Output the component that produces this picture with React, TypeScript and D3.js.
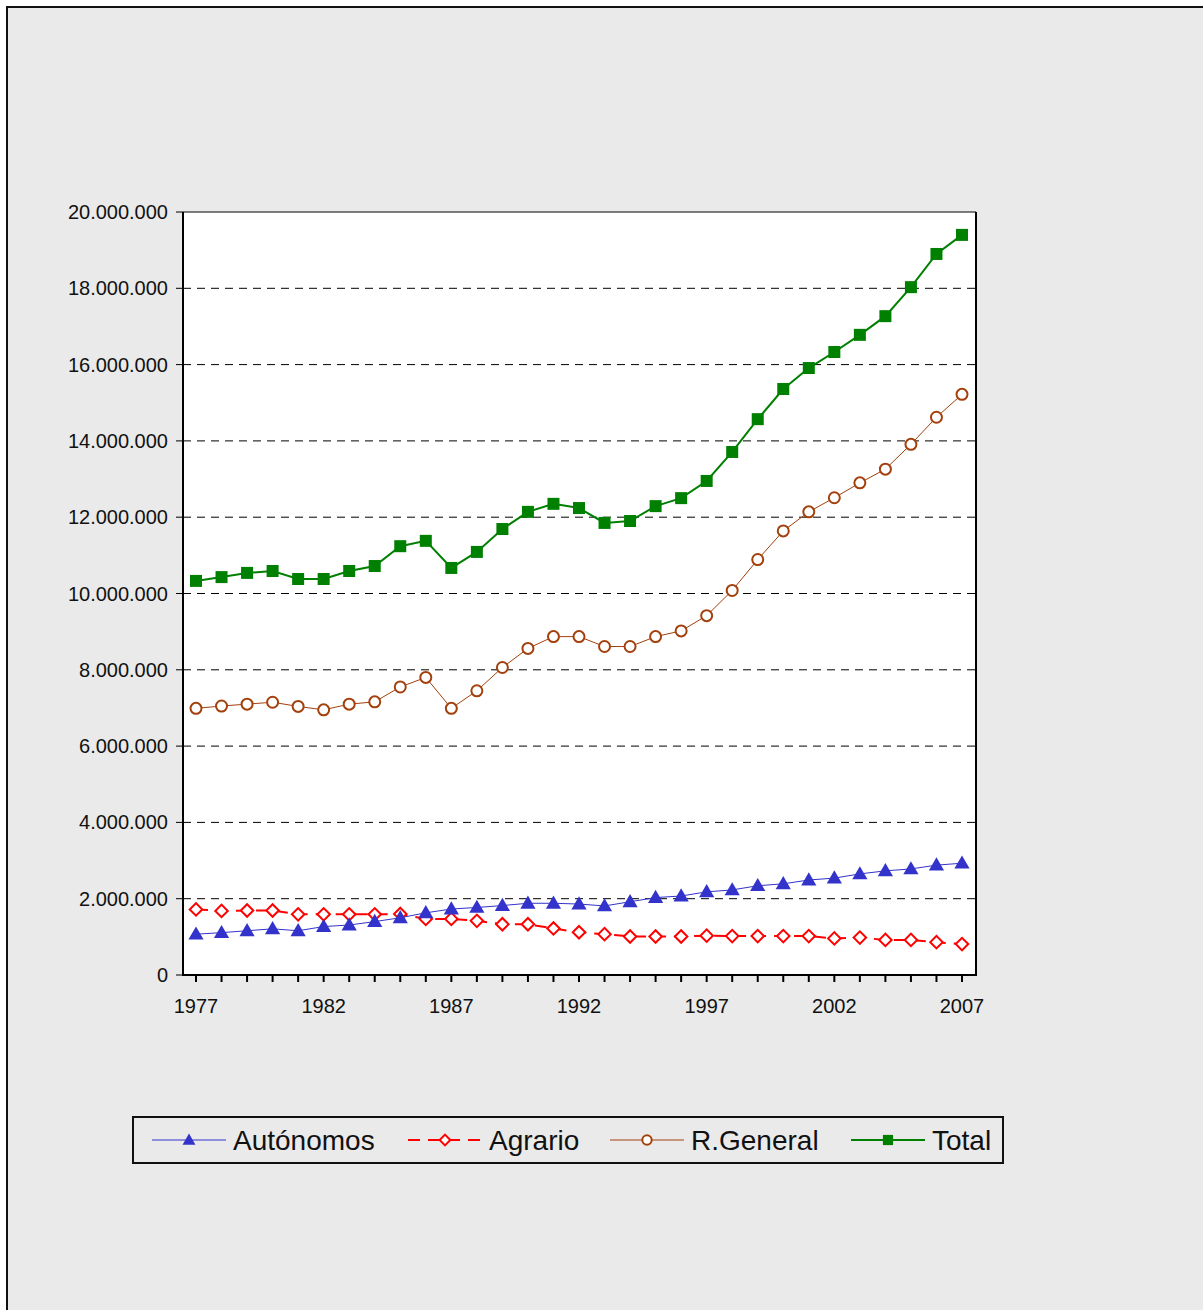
import React from "react";
import * as d3 from "d3";

const width = 1203, height = 1310;

const years = d3.range(1977, 2008);
const yearLabels = [1977, 1982, 1987, 1992, 1997, 2002, 2007];
const yTicks = [0, 2e6, 4e6, 6e6, 8e6, 10e6, 12e6, 14e6, 16e6, 18e6, 20e6];

// millions
const autonomos = [1.07, 1.11, 1.16, 1.21, 1.16, 1.27, 1.31, 1.40, 1.50, 1.63, 1.73, 1.77, 1.82, 1.88, 1.88, 1.86,
  1.81, 1.92, 2.03, 2.07, 2.18, 2.23, 2.34, 2.39, 2.49, 2.54, 2.65, 2.73, 2.78, 2.88, 2.93];
const agrario = [1.72, 1.68, 1.69, 1.69, 1.59, 1.59, 1.59, 1.59, 1.60, 1.47, 1.47, 1.42, 1.33, 1.33, 1.22, 1.12,
  1.07, 1.01, 1.01, 1.01, 1.03, 1.02, 1.02, 1.02, 1.02, 0.96, 0.98, 0.92, 0.92, 0.86, 0.81];
const rGeneral = [6.99, 7.05, 7.10, 7.15, 7.04, 6.95, 7.10, 7.16, 7.55, 7.80, 6.99, 7.45, 8.06, 8.56, 8.87, 8.87,
  8.61, 8.61, 8.87, 9.02, 9.42, 10.08, 10.89, 11.64, 12.14, 12.51, 12.90, 13.26, 13.91, 14.62, 15.22];
const total = [10.33, 10.43, 10.54, 10.59, 10.38, 10.38, 10.59, 10.72, 11.24, 11.38, 10.67, 11.09, 11.69, 12.14,
  12.35, 12.24, 11.85, 11.90, 12.29, 12.50, 12.95, 13.71, 14.57, 15.36, 15.91, 16.33, 16.78, 17.27, 18.03, 18.90, 19.40];

const left = 183, right = 976, top = 212, bottom = 975;

const x = d3.scaleLinear().domain([1977, 2007]).range([196, 962]);
const y = d3.scaleLinear().domain([0, 20e6]).range([bottom, top]);

const fmt = d3.formatLocale({ decimal: ",", thousands: ".", grouping: [3], currency: ["", ""] }).format(",");

type Marker = "triangle" | "diamond" | "circle" | "square";

const series = [
  { name: "Total", values: total, color: "#008000", width: 2, dash: undefined, marker: "square" as Marker },
  { name: "R.General", values: rGeneral, color: "#A3400C", width: 1, dash: undefined, marker: "circle" as Marker },
  { name: "Agrario", values: agrario, color: "#FF0000", width: 2, dash: "12 8", marker: "diamond" as Marker },
  { name: "Autónomos", values: autonomos, color: "#3333CC", width: 1, dash: undefined, marker: "triangle" as Marker },
];

const legendOrder = ["Autónomos", "Agrario", "R.General", "Total"];
const legendX = [152, 408, 610, 851];

const symbolFor = (m: Marker, size: number) => {
  const t = m === "triangle" ? d3.symbolTriangle : m === "circle" ? d3.symbolCircle : d3.symbolSquare;
  return d3.symbol().type(t).size(size)() as string;
};

const MarkerShape = ({ m, cx, cy, color, scale = 1 }: { m: Marker; cx: number; cy: number; color: string; scale?: number }) => {
  if (m === "square") return <rect x={cx - 6 * scale} y={cy - 6 * scale} width={12 * scale} height={12 * scale} fill={color} />;
  if (m === "circle") return <circle cx={cx} cy={cy} r={5.5 * scale} fill="white" stroke={color} strokeWidth={2} />;
  if (m === "diamond")
    return <path d={symbolFor("diamond", 78 * scale * scale)} transform={`translate(${cx},${cy}) rotate(45)`} fill="white" stroke={color} strokeWidth={2} />;
  return <path d={symbolFor("triangle", 100 * scale * scale)} transform={`translate(${cx},${cy + 1})`} fill={color} />;
};

export default function App() {
  const line = d3.line<number>().x((_, i) => x(years[i])).y(d => y(d * 1e6));
  return (
    <svg width={width} height={height} style={{ position: "absolute", left: 0, top: 0 }} fontFamily="'Liberation Sans', Arial, sans-serif">
      <rect x={0} y={0} width={width} height={height} fill="#fff" />
      <rect x={7} y={7} width={width + 20} height={height + 20} fill="#EAEAEA" stroke="#111" strokeWidth={2} />

      <rect x={left} y={top} width={right - left} height={bottom - top} fill="#fff" />

      {yTicks.slice(1, -1).map(t => (
        <line key={t} x1={left} x2={right} y1={y(t)} y2={y(t)} stroke="#000" strokeDasharray="8 6" strokeWidth={1} />
      ))}

      {yTicks.map(t => (
        <g key={"yt" + t}>
          <line x1={176} x2={left} y1={y(t)} y2={y(t)} stroke="#000" strokeWidth={1} />
          <text x={168} y={y(t) + 7} textAnchor="end" fontSize={20} fill="#111">{fmt(t)}</text>
        </g>
      ))}

      {years.map(yr => (
        <line key={"xt" + yr} x1={x(yr)} x2={x(yr)} y1={bottom} y2={bottom + 7} stroke="#000" strokeWidth={2} />
      ))}
      {yearLabels.map(yr => (
        <text key={"xl" + yr} x={x(yr)} y={1013} textAnchor="middle" fontSize={20} fill="#111">{yr}</text>
      ))}

      <line x1={left} x2={right} y1={top} y2={top} stroke="#000" strokeWidth={1} />
      <line x1={left} x2={left} y1={top} y2={bottom + 1} stroke="#000" strokeWidth={2} />
      <line x1={right} x2={right} y1={top} y2={bottom + 1} stroke="#000" strokeWidth={2} />
      <line x1={left - 1} x2={right + 1} y1={bottom} y2={bottom} stroke="#000" strokeWidth={2} />

      {series.map(s => (
        <g key={s.name}>
          <path d={line(s.values) as string} fill="none" stroke={s.color} strokeWidth={s.width} strokeDasharray={s.dash} />
          {s.values.map((v, i) => (
            <MarkerShape key={i} m={s.marker} cx={x(years[i])} cy={y(v * 1e6)} color={s.color} />
          ))}
        </g>
      ))}

      <rect x={133} y={1117} width={870} height={46} fill="#EAEAEA" stroke="#111" strokeWidth={2} />
      {legendOrder.map((n, i) => {
        const s = series.find(d => d.name === n)!;
        const lx = legendX[i];
        return (
          <g key={"lg" + n}>
            <line x1={lx} x2={lx + 74} y1={1140} y2={1140} stroke={s.color} strokeWidth={s.width === 2 ? 2 : 1} strokeDasharray={s.dash ? "12 8" : undefined} />
            <MarkerShape m={s.marker} cx={lx + 37} cy={1140} color={s.color} scale={0.85} />
            <text x={lx + 81} y={1150} fontSize={28} fill="#111">{n}</text>
          </g>
        );
      })}
    </svg>
  );
}
